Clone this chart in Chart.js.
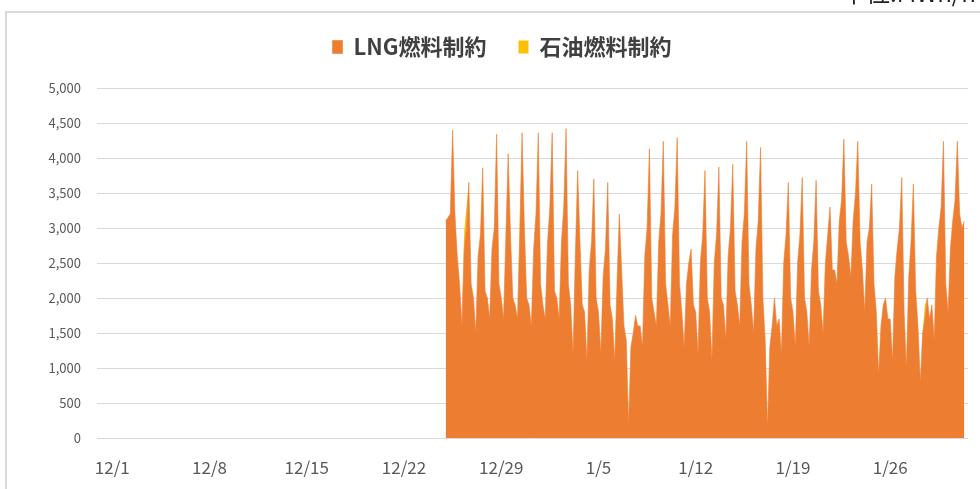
<!DOCTYPE html>
<html>
<head>
<meta charset="utf-8">
<script src="https://cdn.jsdelivr.net/npm/chart.js@4"></script>
<style>
  body { margin: 0; background: #fff; overflow: hidden; }
  #wrap { position: relative; width: 980px; height: 489px; overflow: hidden; }
  #frame { position: absolute; left: 5px; top: 11px; width: 1000px; height: 500px; border: 2px solid #d9d9d9; box-sizing: border-box; }
  #unit { position: absolute; left: 842px; top: -26px; line-height: 24px; white-space: nowrap; font: 24px "Noto Sans CJK JP", sans-serif; color: #222; }
  canvas { position: absolute; left: 0; top: 0; }
</style>
</head>
<body>
<div id="wrap">
  <div id="frame"></div>
  <canvas id="chart" width="980" height="489"></canvas>
  <div id="unit">単位:MWh/h</div>
</div>
<script>
// x axis: days counted from 12/1
const tickDays = [0, 7, 14, 21, 28, 35, 42, 49, 56];
const tickLabels = ['12/1', '12/8', '12/15', '12/22', '12/29', '1/5', '1/12', '1/19', '1/26'];
const yTicks = [0, 500, 1000, 1500, 2000, 2500, 3000, 3500, 4000, 4500, 5000];

const firstDay = 24; // 12/25
const sampleHours = [0, 4, 8, 12, 16, 20];

// MWh/h, one row per day (12/25 .. 1/31), values at 0,4,8,12,16,20h
const lngValues = [
  [3100, 3150, 3200, 4400, 3200, 2600], // 12/25
  [2200, 1600, 2700, 3000, 3650, 2200],
  [2000, 1500, 2600, 2900, 3860, 2100],
  [2000, 1700, 2700, 3000, 4340, 2200],
  [2000, 1700, 2900, 4060, 2900, 2000],
  [1900, 1700, 2900, 4360, 3000, 2000], // 12/30
  [1900, 1600, 2700, 3200, 4360, 2200],
  [1900, 1700, 2800, 3300, 4360, 2100], // 1/1
  [2000, 1700, 2800, 3300, 4420, 2200],
  [1900, 1200, 2600, 3820, 2800, 1900],
  [1800, 1100, 2400, 2800, 3700, 2000],
  [1800, 1200, 2300, 2700, 3650, 1900], // 1/5
  [1700, 1100, 2200, 3200, 2400, 1600],
  [1400, 200, 1300, 1500, 1750, 1600],
  [1600, 1300, 2600, 3000, 4130, 2000],
  [1800, 1600, 2800, 3200, 4240, 2200],
  [1900, 1600, 2900, 3300, 4290, 2200], // 1/10
  [1800, 1300, 2200, 2500, 2700, 1900],
  [1800, 1200, 2500, 2900, 3820, 2000],
  [1800, 1100, 2500, 2900, 3870, 2000],
  [1900, 1400, 2600, 3000, 3910, 2100],
  [1900, 1600, 2800, 3200, 4240, 2200], // 1/15
  [1900, 1500, 2700, 3100, 4150, 2000],
  [1400, 150, 1300, 1600, 2000, 1600],
  [1700, 1200, 2500, 2900, 3650, 2000],
  [1800, 1300, 2500, 2900, 3720, 2000],
  [1800, 1300, 2400, 2800, 3680, 2100], // 1/20
  [1900, 1500, 2500, 2900, 3300, 2400],
  [2400, 2200, 3100, 3400, 4270, 2800],
  [2600, 2300, 3100, 3500, 4240, 2800],
  [2400, 1800, 2800, 3000, 3630, 2200],
  [1800, 900, 1600, 1900, 2000, 1700], // 1/25
  [1700, 1100, 2300, 2700, 3000, 3720],
  [1800, 1000, 2300, 2800, 3630, 2100],
  [1600, 800, 1500, 1700, 2000, 1700],
  [1900, 1400, 2600, 3000, 3300, 4240],
  [2200, 1800, 2700, 3100, 3400, 4240], // 1/30
  [3200, 3000, 3100]
];

const oilValues = [
  [0, 0, 0, 0, 0, 0],
  [0, 0, 250, 300, 0, 0],
  [0, 0, 0, 0, 0, 0],
  [0, 0, 0, 0, 0, 0],
  [0, 0, 0, 0, 0, 0],
  [0, 0, 200, 0, 0, 0],
  [0, 0, 0, 0, 0, 0],
  [0, 0, 0, 0, 0, 0],
  [0, 0, 0, 0, 0, 0],
  [0, 0, 0, 0, 0, 0],
  [0, 0, 0, 0, 0, 0],
  [0, 0, 0, 0, 0, 0],
  [0, 0, 0, 0, 0, 0],
  [0, 0, 0, 0, 0, 0],
  [0, 0, 0, 0, 0, 0],
  [0, 0, 0, 0, 0, 0],
  [0, 0, 0, 0, 0, 0],
  [0, 0, 0, 0, 0, 0],
  [0, 0, 0, 0, 0, 0],
  [0, 0, 0, 0, 0, 0],
  [0, 0, 0, 0, 0, 0],
  [0, 0, 0, 0, 0, 0],
  [0, 0, 0, 0, 0, 0],
  [0, 0, 0, 0, 0, 0],
  [0, 0, 0, 0, 0, 0],
  [0, 0, 0, 0, 0, 0],
  [0, 0, 0, 0, 0, 0],
  [0, 0, 0, 0, 0, 0],
  [0, 0, 0, 0, 0, 0],
  [0, 0, 0, 0, 0, 0],
  [0, 0, 0, 0, 0, 0],
  [0, 0, 0, 0, 0, 0],
  [0, 0, 0, 0, 0, 0],
  [0, 0, 0, 0, 0, 0],
  [0, 0, 0, 200, 0, 0],
  [0, 0, 0, 0, 0, 0],
  [0, 0, 0, 0, 0, 0],
  [0, 0, 0]
];

function toPoints(rows) {
  const pts = [];
  rows.forEach((row, i) => {
    row.forEach((v, j) => {
      pts.push({ x: firstDay + i + sampleHours[j] / 24, y: v });
    });
  });
  return pts;
}

// fixed legend height so the plot starts where the reference's does
const legendSpace = {
  id: 'legendSpace',
  beforeInit(chart) {
    const fit = chart.legend.fit;
    chart.legend.fit = function () {
      fit.bind(chart.legend)();
      this.height = 84;
    };
  }
};

Chart.defaults.font.family = '"Noto Sans CJK JP", "Noto Sans", sans-serif';

new Chart(document.getElementById('chart'), {
  type: 'line',
  data: {
    datasets: [
      {
        label: 'LNG燃料制約',
        data: toPoints(lngValues),
        borderColor: '#ED7D31',
        backgroundColor: '#ED7D31',
        borderWidth: 0.6,
        pointRadius: 0,
        fill: 'origin'
      },
      {
        label: '石油燃料制約',
        data: toPoints(oilValues),
        borderColor: '#FFC000',
        backgroundColor: '#FFC000',
        borderWidth: 0,
        pointRadius: 0,
        fill: '-1'
      }
    ]
  },
  options: {
    responsive: false,
    animation: false,
    devicePixelRatio: 1,
    layout: { padding: { top: 4, left: 36, right: 12, bottom: 0 } },
    plugins: {
      tooltip: { enabled: false },
      legend: {
        position: 'top',
        labels: {
          boxWidth: 10,
          boxHeight: 13,
          padding: 32,
          color: '#404040',
          font: { size: 22, weight: 'bold' }
        }
      }
    },
    scales: {
      x: {
        type: 'linear',
        min: -1.1,
        max: 61.6,
        grid: { display: false, drawTicks: false },
        border: { display: false },
        afterFit(scale) { scale.height = 51; },
        afterBuildTicks(scale) {
          scale.ticks = tickDays.map(v => ({ value: v }));
        },
        ticks: {
          padding: 19,
          color: '#595959',
          font: { size: 17 },
          maxRotation: 0,
          autoSkip: false,
          callback(value) {
            return tickLabels[tickDays.indexOf(value)];
          }
        }
      },
      y: {
        stacked: true,
        min: 0,
        max: 5000,
        afterFit(scale) { scale.width = 61; },
        afterBuildTicks(scale) {
          scale.ticks = yTicks.map(v => ({ value: v }));
        },
        grid: { color: '#d9d9d9', lineWidth: 1, drawTicks: false },
        border: { display: false },
        ticks: {
          padding: 16,
          color: '#595959',
          font: { size: 13 },
          callback(value) { return value.toLocaleString('en-US'); }
        }
      }
    }
  },
  plugins: [legendSpace]
});
</script>
</body>
</html>
